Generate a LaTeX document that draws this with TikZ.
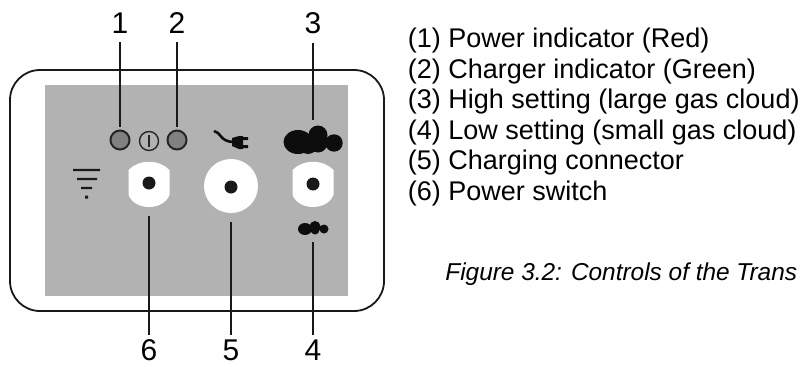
\documentclass[tikz,border=0pt]{standalone}
\usepackage{fontspec}
\setmainfont{Liberation Sans}
\tikzset{
	num node/.style={inner sep=1pt,font=\fontsize{30}{30}\selectfont},
	led node/.style={circle,draw=black!85,line width=2pt,fill=black!50,minimum size=19pt,inner sep=0pt},
	dot node/.style={circle,fill=black!90,minimum size=13pt,inner sep=0pt},
	text node/.style={anchor=base west,inner sep=0pt,font=\fontsize{27}{27}\selectfont}
}
\begin{document}
\begin{tikzpicture}[x=1pt,y=-1pt,line width=1.8pt]
	\useasboundingbox (0,0) rectangle (801,367);

	% panel
	\draw[black!90,rounded corners=30pt] (10,70) rectangle (384,311);
	\fill[black!30] (45,85) rectangle (348,296);

	% white bodies
	\foreach \x in {149,313}
		\fill[white] (\x-20.5,170) .. controls (\x-10,159) and (\x+10,159) .. (\x+20.5,170) -- (\x+20.5,195)
			.. controls (\x+14,211) and (\x-14,211) .. (\x-20.5,195) -- cycle;
	\node[circle,fill=white,minimum size=54pt,inner sep=0pt] (disc) at (231,186) {};

	% holes and lamps
	\node[dot node] (sw6) at (149,183) {};
	\node[dot node] (sw5) at (231,187) {};
	\node[dot node] (sw3) at (313,184) {};
	\node[led node] (led1) at (120,140) {};
	\node[led node] (led2) at (177,140) {};
	\node[circle,draw=black!85,line width=1.4pt,minimum size=19pt,inner sep=0pt] (pow) at (149,141) {};
	\draw[black!85,line width=1.4pt] (149,135) -- (149,147);

	% clouds
	\fill[black!95] (298,142) ellipse (14.5 and 12) (318,135) circle (9.5) (334,143) circle (8.7) (318,143) circle (9.5) (308,144) circle (10);
	\coordinate (cloud3) at (313,120);
	\fill[black!95] (305,229) ellipse (7 and 6) (315,226.5) circle (5.5) (315,230) circle (4.5) (324,229) circle (4.5);
	\coordinate (cloud4) at (313,242);

	% plug
	\draw[black!95,line width=2.6pt] (214,131) .. controls (221,132) and (220,142) .. (234,142);
	\fill[black!95] (232,138) -- (239,136) -- (243,136) -- (243,149) -- (239,149) -- (232,146) -- cycle;
	\fill[black!95] (243,137) rectangle (248,140) (243,145) rectangle (248,148);

	% filter mark
	\fill[black!90] (73,168.8) rectangle (100,171.2) (77,177.8) rectangle (97,180.2) (81,186.8) rectangle (92,189.2) (85,195.5) rectangle (88,198.5);

	% numbers
	\node[num node] (n1) at (120,23) {1};
	\node[num node] (n2) at (177,23) {2};
	\node[num node] (n3) at (313,23) {3};
	\node[num node] (n6) at (149,350) {6};
	\node[num node] (n5) at (231,350) {5};
	\node[num node] (n4) at (313,350) {4};

	\path[draw=black!90,line width=2pt,shorten <=7pt]
	(n1) edge [shorten >=3pt] (led1)
	(n2) edge [shorten >=3pt] (led2)
	(n3) edge (cloud3)
	(n6) edge [shorten <=2.5pt,shorten >=25.5pt] (sw6)
	(n5) edge [shorten <=2.5pt,shorten >=27.5pt] (sw5)
	(n4) edge [shorten <=2.5pt] (cloud4);

	% list
	\node[text node] (t1) at (407,47.7) {(1) Power indicator (Red)};
	\node[text node] (t2) at (407,78.2) {(2) Charger indicator (Green)};
	\node[text node] (t3) at (407,108.7) {(3) High setting (large gas cloud)};
	\node[text node] (t4) at (407,139.2) {(4) Low setting (small gas cloud)};
	\node[text node] (t5) at (407,169.7) {(5) Charging connector};
	\node[text node] (t6) at (407,200.2) {(6) Power switch};
	\node[text node,anchor=base east,font=\fontsize{24.4}{24.4}\selectfont\itshape] (cap) at (798,280) {Figure 3.2: Controls of the Trans};
\end{tikzpicture}
\end{document}
